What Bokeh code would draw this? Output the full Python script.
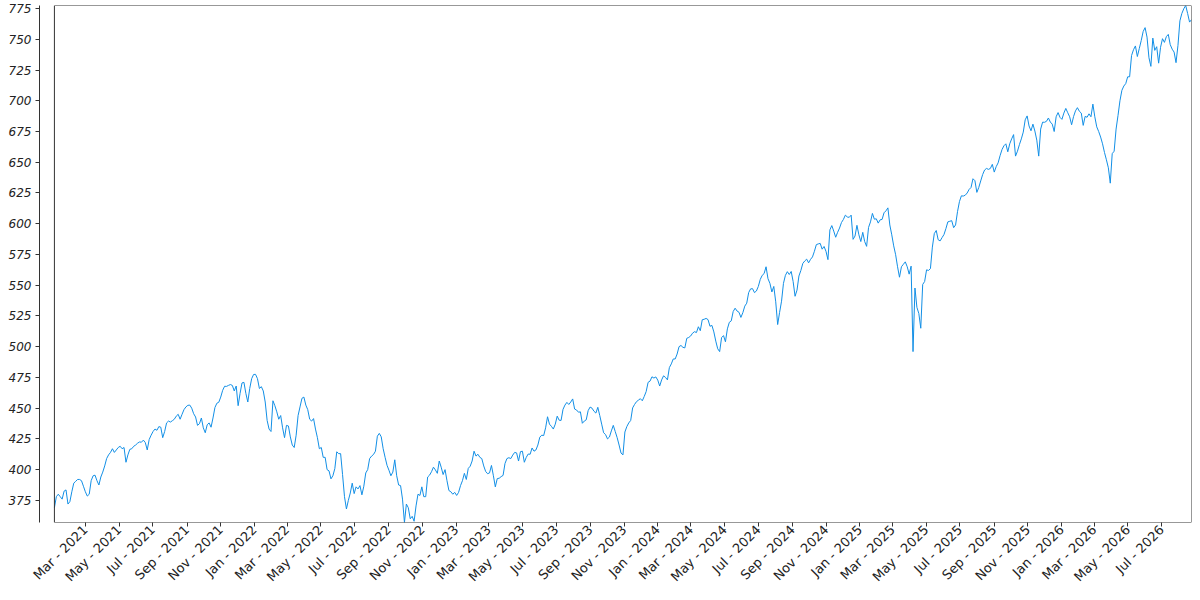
import math
import pandas as pd
from bokeh.plotting import figure
from bokeh.models import Range1d, FixedTicker, DatetimeTickFormatter, BoxAnnotation, ColumnDataSource
from bokeh.embed import file_html
from bokeh.resources import INLINE

# ---- data: closes, one value every half week ----
start_date = "2021-01-04"
step = "84h"
closes = [
    369, 378, 380, 378, 376, 382.5, 383.5, 372, 374, 382,
    389, 390.5, 392, 392, 391, 386.5, 382, 378.5, 380, 391,
    395, 395.5, 391, 387.5, 394, 398, 403, 409, 412, 414,
    417, 414, 416, 418, 419, 417, 418, 406, 412, 416.5,
    417, 419, 420, 421.5, 422.5, 422.3, 424, 422, 416, 424.5,
    428, 431, 433, 432, 435, 434.5, 426, 431, 438, 439.5,
    438.7, 439.8, 441, 443.5, 445, 441, 445, 448.8, 451, 452.3,
    452.5, 450, 445.5, 442.8, 436, 437.4, 442, 434, 430, 436.5,
    438, 434.5, 442, 450.5, 454, 454.8, 459, 464.5, 467.8, 467.7,
    468.5, 469.2, 468.5, 464, 468, 452, 462, 470.5, 471, 462,
    455, 466, 474, 477.4, 477.5, 474, 466, 467.5, 464, 455,
    440, 433, 431, 456, 452, 447, 441, 444, 434, 426,
    436, 435.5, 426.6, 420, 418, 428, 444, 451, 458, 459,
    452.5, 448.8, 441, 439.5, 441.5, 433, 426, 417, 418, 410,
    410, 400, 399, 392.5, 395, 400.8, 414.5, 413, 413, 396,
    378, 368, 375, 381, 389, 380.5, 386, 384.3, 387, 379.5,
    386.5, 397.3, 400, 409, 411, 412.3, 415, 427.2, 429.5, 426.7,
    417, 410, 403.5, 399.5, 395, 398, 408, 395, 387.5, 387,
    376, 357, 372, 369, 360, 362, 358, 370.5, 380, 379,
    386, 378, 378, 394, 395.5, 398.3, 402, 399.8, 397, 407,
    402, 396, 400, 391, 383, 382, 380, 381.5, 379, 381.5,
    387, 391, 397, 392, 401, 402.8, 407, 415, 411, 412.5,
    410, 409, 403, 398.5, 396.7, 397.3, 403.4, 395, 386, 392.7,
    393, 394.3, 395.3, 405, 409, 409.7, 409, 411.8, 414, 413.6,
    407, 414.6, 415, 406, 410, 412.7, 412.5, 417.6, 415, 416,
    420, 426.4, 428, 427.7, 434, 443, 437, 435.2, 433, 437,
    443.5, 440.2, 440, 449, 452.5, 454.7, 453, 455, 457.5, 449.3,
    448.5, 446.7, 447, 437.7, 439.5, 440.5, 448, 450.9, 450, 447.5,
    446, 450.7, 444, 437, 430, 428.5, 425, 426.5, 431.5, 436,
    431, 426, 420, 413.5, 412, 430.6, 435, 438, 440, 450.2,
    453, 455.3, 456.5, 457.7, 456, 459.5, 463.5, 471, 472, 475.5,
    474.5, 475.4, 472.8, 468, 473, 476.3, 475, 473, 483, 486,
    490, 490, 494, 500, 501, 499.5, 499, 506.8, 507.5, 508.7,
    511, 512.2, 511.5, 516.2, 513, 521.9, 522.3, 523, 522, 516.6,
    517.3, 512, 504.5, 498.3, 496, 507.4, 509, 504, 514.5, 519.8,
    521, 528.6, 531.3, 529, 528, 523.8, 527.7, 533, 535.4, 544,
    547, 547.2, 544, 545.3, 549, 554.7, 558, 559.5, 565, 555.3,
    551.5, 544.5, 549, 536.5, 518, 527.9, 537, 551.5, 558, 561,
    558.7, 561.2, 553, 541, 546, 557.5, 562, 567.7, 569.7, 571.2,
    568.2, 571, 573, 577.6, 583, 583.6, 584, 579.3, 581.5, 577.5,
    570.8, 595, 598.5, 594, 589, 593, 596.5, 601, 603.5, 607,
    605.5, 605.2, 607, 587.3, 590, 598.7, 591, 585.5, 593, 585.5,
    581.6, 597, 601.5, 608.4, 603.7, 604, 600.5, 603.2, 603.5, 608.9,
    610.5, 612.9, 599, 591, 582, 574.8, 565, 556.5, 565, 567,
    569, 565, 559, 565.5, 496, 547.7, 532, 527, 515, 550.6,
    553, 562.5, 562, 563.5, 581, 592, 594.5, 587, 586, 588.7,
    591.2, 596, 601.5, 602, 602.5, 596.8, 599, 609.8, 618, 622.7,
    622.5, 623.2, 625, 627.9, 629.5, 636.6, 635, 625.5, 629.5, 634.8,
    640, 643.7, 645, 644.2, 645, 648.3, 642, 646.4, 649.5, 655.3,
    660.3, 663.4, 665, 658.5, 665, 669, 672.5, 655, 659, 664.3,
    669, 674.5, 684.5, 687.7, 679.5, 675.6, 681, 675.4, 668, 655,
    677, 682.6, 682.5, 683.3, 686, 682.7, 681, 675, 687, 690.4,
    686.5, 684.9, 690, 693.8, 690.3, 687, 680.5, 687.1, 691.8, 694.4,
    691.5, 690, 680, 687.3, 686.6, 689.4, 687, 697.3, 687, 678.8,
    675, 670.5, 665, 658, 652, 645.5, 633, 657, 659, 677,
    688, 700, 708.5, 712, 714, 719.5, 719.5, 736.8, 741.5, 744.6,
    736, 742.5, 749, 756.3, 759.5, 751.8, 735, 728, 751, 741,
    744, 730.6, 743.5, 750.5, 747.5, 752.2, 754, 745.7, 742, 739.6,
    731, 745, 765, 771, 774.8, 777.5, 771, 764, 766,
]
y_ticks = [375, 400, 425, 450, 475, 500, 525, 550, 575, 600, 625, 650, 675, 700, 725, 750, 775]
x_tick_first = "2021-03-01"
x_tick_last = "2026-07-01"

dates = pd.date_range(start_date, periods=len(closes), freq=step)
x_tick_dates = pd.date_range(x_tick_first, x_tick_last, freq="2MS")

src = ColumnDataSource(dict(date=dates, close=closes))

first = dates[0].to_pydatetime()
last = dates[-1].to_pydatetime()
pad_start = (dates[0] - pd.Timedelta(days=27)).to_pydatetime()

p = figure(width=1192, height=592, x_axis_type="datetime",
           output_backend="svg", toolbar_location=None,
           x_range=Range1d(pad_start, last),
           y_range=Range1d(min(closes), max(closes)),
           min_border_left=39, min_border_right=1,
           min_border_top=5, min_border_bottom=70)
p.outline_line_color = None
p.grid.visible = False
p.background_fill_color = "white"
p.border_fill_color = "white"

p.line("date", "close", source=src, line_color="#128fe6", line_width=1)

frame_box = BoxAnnotation(left=first, fill_alpha=0, fill_color=None,
                          line_color="#333333", line_alpha=1.0, line_width=1,
                          level="overlay")
p.add_layout(frame_box)

xa = p.xaxis[0]
xa.ticker = FixedTicker(ticks=[d.timestamp() * 1000 for d in x_tick_dates])
fmt = "%b - %Y"
xa.formatter = DatetimeTickFormatter(milliseconds=fmt, seconds=fmt, minsec=fmt, minutes=fmt,
                                     hourmin=fmt, hours=fmt, days=fmt, months=fmt, years=fmt)
xa.major_label_orientation = math.pi / 4
xa.axis_line_color = None
xa.major_tick_in = 0
xa.major_tick_out = 4
xa.major_tick_line_color = "#333333"
xa.minor_tick_line_color = None
xa.major_label_text_font = "DejaVu Sans"
xa.major_label_text_font_size = "13px"
xa.major_label_text_color = "#222222"
xa.major_label_standoff = 1

ya = p.yaxis[0]
ya.ticker = FixedTicker(ticks=y_ticks)
ya.axis_line_color = "#333333"
ya.major_tick_in = 0
ya.major_tick_out = 4
ya.major_tick_line_color = "#333333"
ya.minor_tick_line_color = None
ya.major_label_text_font = "DejaVu Sans"
ya.major_label_text_font_size = "12px"
ya.major_label_text_font_style = "italic"
ya.major_label_text_color = "#222222"
ya.major_label_standoff = 4

open("out.html", "w").write(file_html(p, INLINE))
